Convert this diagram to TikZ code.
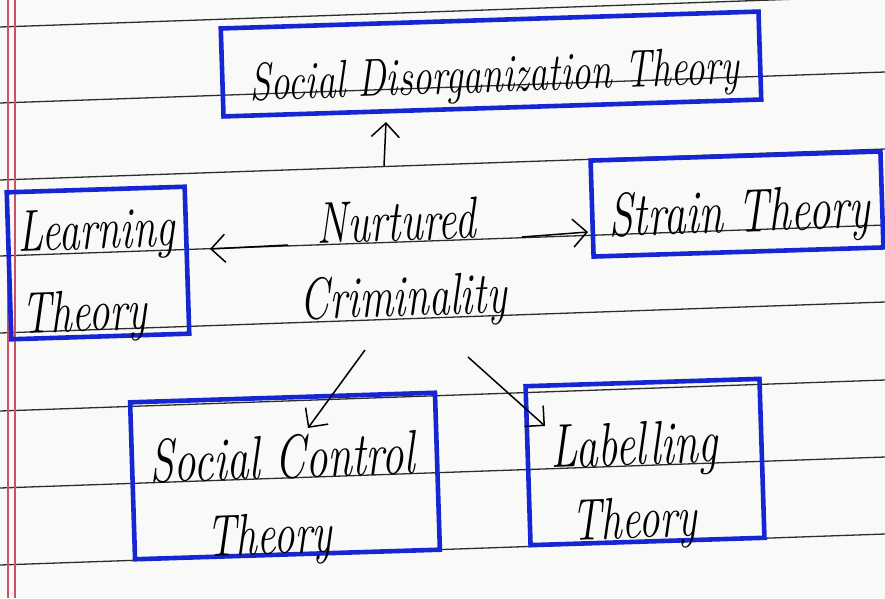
\documentclass[tikz,border=0pt]{standalone}
\usepackage{fontspec}
\usepackage{graphicx}
\usetikzlibrary{arrows.meta}
\definecolor{pen}{RGB}{22,38,210}
\definecolor{paper}{RGB}{249,249,247}
\definecolor{rule}{RGB}{45,45,45}
\definecolor{margin}{RGB}{205,80,105}
\newcommand\tallhw[1]{\scalebox{1}[1.4]{#1}}
\tikzset{
  box/.style={draw=pen, line width=4.6pt, rotate=1.8, minimum width=#1},
  hw/.style={font=\fontsize{42}{46}\selectfont\itshape, text=black, inner sep=0pt, anchor=base, rotate=2},
  hwbig/.style={hw, font=\fontsize{44}{48}\selectfont\itshape},
  hwsmall/.style={hw, font=\fontsize{38}{40}\selectfont\itshape},
  arr/.style={draw=black, line width=1.5pt, -{Straight Barb[length=14pt,width=28pt,line width=1.5pt]}},
  ruling/.style={draw=rule, line width=1.3pt},
  marg/.style={draw=margin, line width=1.1pt}
}
\begin{document}
\begin{tikzpicture}[x=1pt,y=-1pt]
\useasboundingbox (0,0) rectangle (885,598);
\fill[paper] (0,0) rectangle (885,598);
% ruled lines
\foreach \y in {27,103,180,256,333,411,488,565}{
  \draw[ruling] (0,\y) -- (885,\y-31);
}
% margin
\draw[marg] (8,0) -- (8,598);
\draw[marg] (15,0) -- (15,598);

% boxes
\node[box=538pt, minimum height=88pt] (sdtbox) at (491,64) {};
\node[box=178pt, minimum height=147pt] (learnbox) at (98,263) {};
\node[box=290pt, minimum height=96pt] (strainbox) at (737,204) {};
\node[box=305pt, minimum height=157pt] (scbox) at (285,476) {};
\node[box=234pt, minimum height=159pt] (labbox) at (645,462) {};

% texts
\node[hwsmall] (sdt) at (495,92) {\tallhw{Social Disorganization Theory}};
\node[hw] (learn1) at (97,249) {\tallhw{Learning}};
\node[hw] (learn2) at (85,331) {\tallhw{Theory}};
\node[hw] (nurt) at (397,241) {\tallhw{Nurtured}};
\node[hw] (crim) at (404,316) {\tallhw{Criminality}};
\node[hwbig] (strain) at (740,232) {\tallhw{Strain Theory}};
\node[hwbig] (sc1) at (283,478) {\tallhw{Social Control}};
\node[hw] (sc2) at (270,554) {\tallhw{Theory}};
\node[hwbig] (lab1) at (635,465) {\tallhw{Labelling}};
\node[hw] (lab2) at (635,538) {\tallhw{Theory}};

% arrow ends
\coordinate (upS) at (384,166);
\coordinate (upE) at (386,122);
\coordinate (lS) at (288,245);
\coordinate (lE) at (210,249);
\coordinate (rS) at (522,237);
\coordinate (rE) at (588,232);
\coordinate (dlS) at (365,350);
\coordinate (dlE) at (308,428);
\coordinate (drS) at (468,357);
\coordinate (drE) at (545,426);

\draw[arr] (upS) -- (upE);
\draw[arr] (lS) -- (lE);
\draw[arr] (rS) -- (rE);
\draw[arr] (dlS) -- (dlE);
\draw[arr] (drS) -- (drE);
\end{tikzpicture}
\end{document}
